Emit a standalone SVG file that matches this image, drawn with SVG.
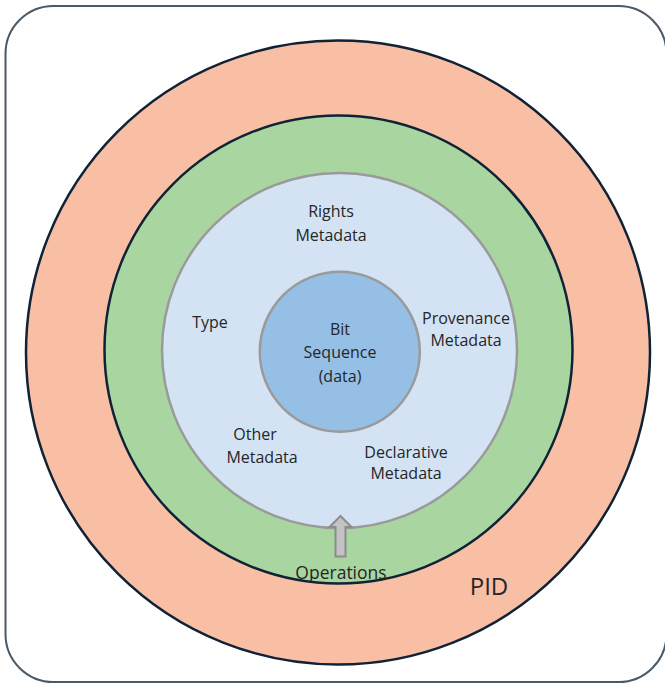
<svg xmlns="http://www.w3.org/2000/svg" width="665" height="684" viewBox="0 0 665 684">
  <style>
    .lbl { font-family: "Open Sans", "Noto Sans", sans-serif; font-size: 16px; fill: #262626; text-anchor: middle; }
    .ops { font-size: 17.5px; }
    .big { font-family: "Open Sans", "Noto Sans", sans-serif; font-size: 24px; fill: #262626; text-anchor: middle; }
    .ring-dark { stroke: #0f2236; stroke-width: 2.5; }
    .ring-grey { stroke: #9a9a9a; stroke-width: 2.5; }
  </style>
  <rect width="665" height="684" fill="#ffffff"/>
  <!-- frame -->
  <rect x="5.5" y="6" width="661" height="676" rx="48" ry="48" fill="none" stroke="#4a5966" stroke-width="2"/>

  <g id="pid">
    <circle cx="338" cy="352.5" r="312" fill="#F8BFA5" class="ring-dark"/>
    <text x="489" y="595" class="big">PID</text>
  </g>
  <g id="operations">
    <circle cx="338.5" cy="349.5" r="234" fill="#A8D5A0" class="ring-dark"/>
    <text x="341" y="579" class="lbl ops">Operations</text>
  </g>
  <g id="metadata">
    <circle cx="339.5" cy="350.5" r="177.5" fill="#D3E3F4" class="ring-grey"/>
    <text class="lbl" x="331" y="217">Rights</text>
    <text class="lbl" x="331" y="241">Metadata</text>
    <text class="lbl" x="210" y="328">Type</text>
    <text class="lbl" x="466" y="324">Provenance</text>
    <text class="lbl" x="466" y="346">Metadata</text>
    <text class="lbl" x="255" y="440">Other</text>
    <text class="lbl" x="262" y="463">Metadata</text>
    <text class="lbl" x="406" y="458">Declarative</text>
    <text class="lbl" x="406" y="479">Metadata</text>
  </g>
  <g id="bit-sequence">
    <circle cx="339.8" cy="351.7" r="80" fill="#96BFE6" class="ring-grey"/>
    <text class="lbl" x="340" y="335">Bit</text>
    <text class="lbl" x="340" y="358">Sequence</text>
    <text class="lbl" x="340" y="382">(data)</text>
  </g>

  <g id="connectors">
    <path d="M335.5 556.5 V527 H329.5 L340.5 516 L351.5 527 H345.5 V556.5 Z" fill="#c3c3c3" stroke="#8c8c8c" stroke-width="2" stroke-linejoin="miter"/>
  </g>
</svg>
